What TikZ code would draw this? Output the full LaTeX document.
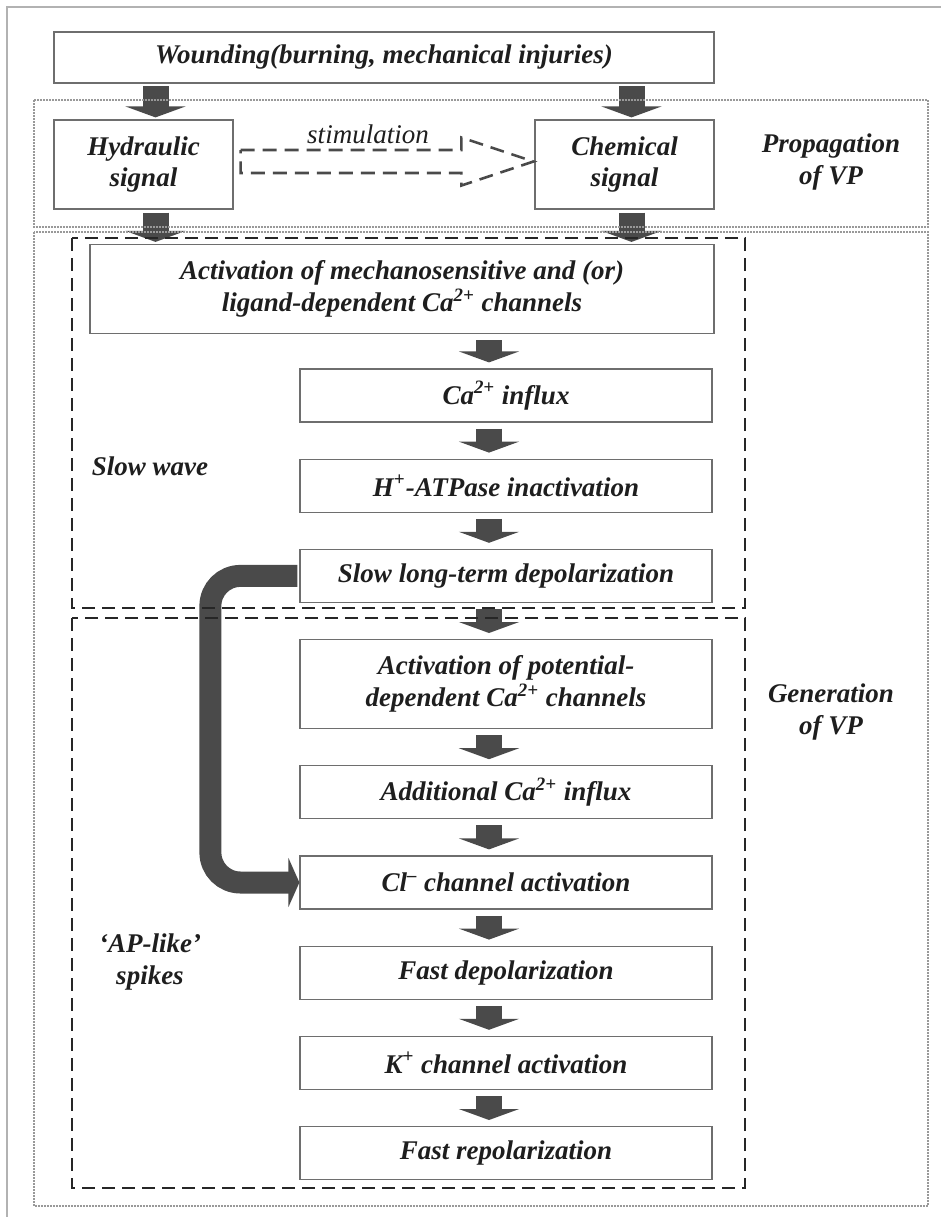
\documentclass[tikz,border=0pt]{standalone}
\usepackage{fontspec}
\setmainfont{Liberation Serif}
\usetikzlibrary{arrows.meta,calc,positioning}
\definecolor{arrowgray}{RGB}{74,74,74}
\definecolor{boxgray}{RGB}{110,110,110}
\definecolor{textblack}{RGB}{30,30,30}
\tikzset{
  stepbox/.style={draw=boxgray, line width=0.6pt, fill=white, align=center, text=textblack,
    font=\fontsize{13.5}{16}\selectfont\bfseries\itshape, minimum width=206pt, minimum height=26.5pt, inner sep=1pt},
  tallbox/.style={stepbox, minimum height=44.5pt},
  sidelabel/.style={align=center, text=textblack, font=\fontsize{13.5}{16}\selectfont\bfseries\itshape},
  blockarrow/.style={arrowgray, line width=13pt, -{Triangle[width=30pt,length=5.5pt]}},
  bendarrow/.style={arrowgray, line width=11pt, rounded corners=15pt, -{Triangle[width=24.5pt,length=5.5pt]}},
  stimarrow/.style={draw=arrowgray, line width=1.3pt, dash pattern=on 7pt off 4pt},
  groupframe/.style={gray!80, line width=0.9pt, dash pattern=on 0.9pt off 0.6pt},
  phaseframe/.style={black!85, line width=1.3pt, dash pattern=on 6.5pt off 3.5pt},
}

\begin{document}
\begin{tikzpicture}[x=0.5pt, y=-0.5pt]
  \useasboundingbox (0,0) rectangle (941,1217);
  \draw[gray!60, line width=1pt] (941,7) -- (7,7) -- (7,1217);

  % propagation
  \node[stepbox, minimum width=330pt, minimum height=25.5pt] (wound) at (384,57.5) {Wounding(burning, mechanical injuries)};
  \node[tallbox, minimum width=89.5pt] (hydr) at (143.5,164.5) {Hydraulic\\signal};
  \node[tallbox, minimum width=89.5pt] (chem) at (624.5,164.5) {Chemical\\signal};
  \node[sidelabel] (propvp) at (831,162) {Propagation\\of VP};

  % slow wave
  \node[tallbox, minimum width=312pt] (actmech) at (402,289) {Activation of mechanosensitive and (or)\\ligand-dependent Ca\textsuperscript{2+} channels};
  \node[stepbox] (cainf) at (506,395.5) {Ca\textsuperscript{2+} influx};
  \node[stepbox, below=18pt of cainf] (hatp) {H\textsuperscript{+}-ATPase inactivation};
  \node[stepbox, below=18pt of hatp] (slowdep) {Slow long-term depolarization};
  \node[sidelabel] (slowwave) at (150,466) {Slow wave};

  % spikes
  \node[tallbox, below=18pt of slowdep] (actpot) {Activation of potential-\\dependent Ca\textsuperscript{2+} channels};
  \node[stepbox, below=18pt of actpot] (addca) {Additional Ca\textsuperscript{2+} influx};
  \node[stepbox, below=18pt of addca] (clact) {Cl\textsuperscript{--} channel activation};
  \node[stepbox, below=18pt of clact] (fastdep) {Fast depolarization};
  \node[stepbox, below=18pt of fastdep] (kact) {K\textsuperscript{+} channel activation};
  \node[stepbox, below=18pt of kact] (fastrep) {Fast repolarization};
  \node[sidelabel] (aplike) at (150,962) {‘AP-like’\\spikes};
  \node[sidelabel] (genvp) at (831,712) {Generation\\of VP};

  % arrows
  \draw[blockarrow] ($(hydr.north)+(12,-33)$) -- ($(hydr.north)+(12,-2)$);
  \draw[blockarrow] ($(chem.north)+(7,-33)$) -- ($(chem.north)+(7,-2)$);
  \draw[blockarrow] ($(hydr.south)+(12,3)$) -- ($(hydr.south |- actmech.north)+(12,-2)$);
  \draw[blockarrow] ($(chem.south)+(7,3)$) -- ($(chem.south |- actmech.north)+(7,-2)$);
  \foreach \a/\b in {actmech/cainf, cainf/hatp, hatp/slowdep, slowdep/actpot, actpot/addca,
                     addca/clact, clact/fastdep, fastdep/kact, kact/fastrep}
    \draw[blockarrow] ($(\a.south -| \b.north)+(-17,6)$) -- ($(\b.north)+(-17,-6)$);
  \draw[bendarrow] ([xshift=-1pt]slowdep.west) -- ++(-87,0) |- (clact.west);

  % stimulation
  \coordinate (stimA) at ($(hydr.east)+(7,-3)$);
  \coordinate (stimB) at ($(chem.west)+(-1,-3)$);
  \draw[stimarrow] ($(stimA)+(0,-11.5)$) -- ($(stimB)+(-72,-11.5)$) -- ($(stimB)+(-72,-24)$)
    -- (stimB) -- ($(stimB)+(-72,24)$) -- ($(stimB)+(-72,11.5)$) -- ($(stimA)+(0,11.5)$) -- cycle;
  \node[font=\fontsize{13.5}{16}\selectfont\itshape, text=textblack] (stimtext) at (368,134) {stimulation};

  % frames
  \draw[groupframe] (34,100) rectangle (928,227);
  \draw[groupframe] (34,232) rectangle (928,1206);
  \draw[phaseframe] (72,238) rectangle (745,608);
  \draw[phaseframe] (72,618) rectangle (745,1188);
\end{tikzpicture}
\end{document}
